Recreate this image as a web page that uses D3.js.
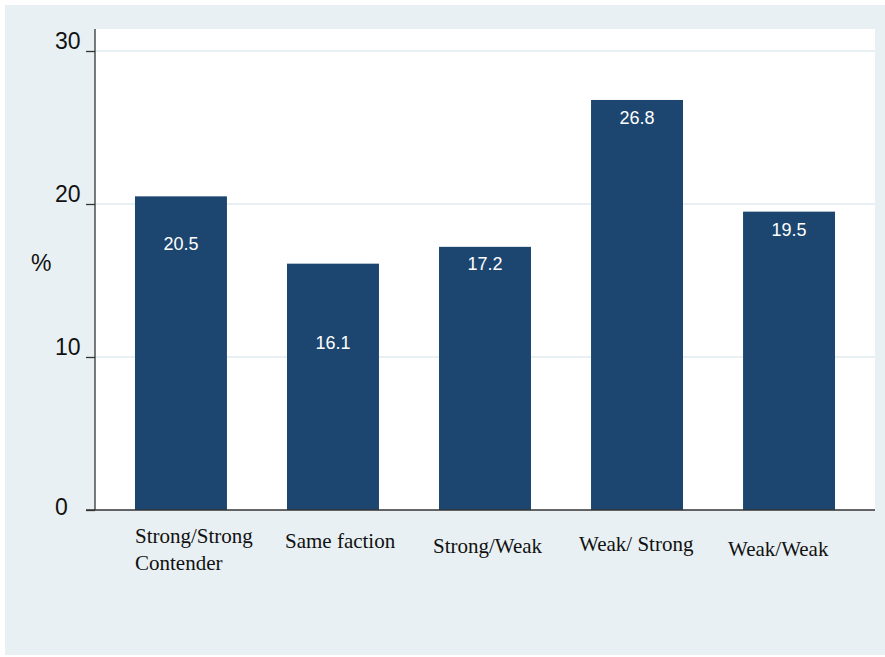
<!DOCTYPE html>
<html>
<head>
<meta charset="utf-8">
<script src="https://cdn.jsdelivr.net/npm/d3@7"></script>
<style>
  body { margin: 0; background: #fff; }
  svg { display: block; }
</style>
</head>
<body>
<div class="content"></div>
<script>
const w = 885;
const h = 657;

// data
const categories = ['Strong/Strong\nContender', 'Same faction', 'Strong/Weak', 'Weak/ Strong', 'Weak/Weak'];
const values = [20.5, 16.1, 17.2, 26.8, 19.5];
const yTicks = [0, 10, 20, 30];

// per-bar nudges (value label drop, category label shift)
const labelDrop = [54, 85, 23, 24, 24];
const catDx = [0, -2, -6, -12, -15];
const catY = [543, 548, 553, 551, 556];

const bg = '#e8f0f3';
const barColor = '#1c466f';

const plot = { left: 95, right: 875, top: 29, bottom: 510 };

const svg = d3.select('.content').append('svg')
	.attr('width', w)
	.attr('height', h);

svg.append('rect')
	.attr('x', 5).attr('y', 5)
	.attr('width', w - 5).attr('height', h - 7)
	.attr('fill', bg);

svg.append('rect')
	.attr('x', plot.left).attr('y', plot.top)
	.attr('width', plot.right - plot.left)
	.attr('height', plot.bottom - plot.top)
	.attr('fill', '#fff');

const x = d3.scaleBand()
	.domain(categories)
	.range([plot.left, plot.right])
	.paddingInner(0.395)
	.paddingOuter(0.263);

const y = d3.scaleLinear()
	.domain([0, 30])
	.range([plot.bottom, 51]);

// gridlines
svg.append('g')
	.selectAll('line')
	.data(yTicks.filter(d => d > 0))
	.enter()
	.append('line')
	.attr('x1', plot.left).attr('x2', plot.right)
	.attr('y1', d => y(d)).attr('y2', d => y(d))
	.attr('stroke', bg)
	.attr('stroke-width', 2);

// bars
svg.append('g')
	.selectAll('rect')
	.data(values)
	.enter()
	.append('rect')
	.attr('x', (d, i) => x(categories[i]))
	.attr('y', d => y(d))
	.attr('width', x.bandwidth())
	.attr('height', d => y(0) - y(d))
	.attr('fill', barColor);

// value labels
svg.append('g')
	.selectAll('text')
	.data(values)
	.enter()
	.append('text')
	.attr('x', (d, i) => x(categories[i]) + x.bandwidth() / 2)
	.attr('y', (d, i) => y(d) + labelDrop[i])
	.attr('text-anchor', 'middle')
	.attr('fill', '#fff')
	.style('font-family', 'Arial, "Liberation Sans", sans-serif')
	.style('font-size', '18px')
	.text(d => d.toFixed(1));

// y axis
const yAxis = d3.axisLeft(y)
	.tickValues(yTicks)
	.tickSize(9)
	.tickFormat('');

svg.append('g')
	.attr('transform', `translate(${plot.left},0)`)
	.call(yAxis)
	.call(g => g.select('.domain').remove())
	.call(g => g.selectAll('.tick line').attr('stroke', '#333').attr('stroke-width', 1.3));

svg.append('line')
	.attr('x1', plot.left).attr('x2', plot.left)
	.attr('y1', plot.top).attr('y2', plot.bottom)
	.attr('stroke', '#333').attr('stroke-width', 1.3);

svg.append('line')
	.attr('x1', plot.left - 9).attr('x2', plot.right)
	.attr('y1', plot.bottom).attr('y2', plot.bottom)
	.attr('stroke', '#333').attr('stroke-width', 1.5);

svg.append('g')
	.selectAll('text')
	.data(yTicks)
	.enter()
	.append('text')
	.attr('x', 55)
	.attr('y', d => d === 0 ? y(d) + 5 : y(d) - 2)
	.attr('fill', '#111')
	.style('font-family', 'Arial, "Liberation Sans", sans-serif')
	.style('font-size', '23px')
	.text(d => d);

svg.append('text')
	.attr('x', 31)
	.attr('y', 271)
	.attr('fill', '#111')
	.style('font-family', 'Arial, "Liberation Sans", sans-serif')
	.style('font-size', '23px')
	.text('%');

// category labels
svg.append('g')
	.selectAll('text')
	.data(categories)
	.enter()
	.append('text')
	.attr('x', (d, i) => x(d) + catDx[i])
	.attr('y', (d, i) => catY[i])
	.attr('fill', '#111')
	.style('font-family', '"Liberation Serif", "Times New Roman", serif')
	.style('font-size', '21px')
	.each(function(d, i) {
		const t = d3.select(this);
		d.split('\n').forEach((line, j) => {
			t.append('tspan')
				.attr('x', x(d) + catDx[i])
				.attr('dy', j === 0 ? 0 : 27)
				.text(line);
		});
	});
</script>
</body>
</html>
